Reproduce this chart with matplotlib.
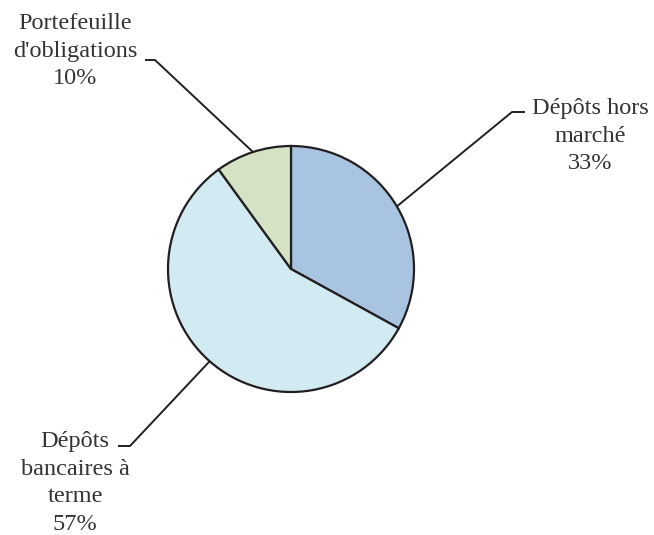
import numpy as np
import matplotlib
matplotlib.use('Agg')
import matplotlib.pyplot as plt

# data
labels = ["Dépôts hors\nmarché", "Dépôts\nbancaires à\nterme", "Portefeuille\nd'obligations"]
shares = [33, 57, 10]
colors = ['#a9c4e0', '#d2eaf1', '#d3e3c4']

W, H = 654, 535
fig = plt.figure(figsize=(W / 100, H / 100), dpi=100)
ax = fig.add_axes([0, 0, 1, 1])

cx, cy, r = 291, 266, 123
wedges, _ = ax.pie(shares, colors=colors, startangle=90, counterclock=False,
                   center=(cx, cy), radius=r, frame=True,
                   wedgeprops=dict(edgecolor='#231f20', linewidth=1.6))
ax.set_xlim(0, W)
ax.set_ylim(0, H)
ax.set_aspect('equal')
ax.axis('off')

# leader lines: (elbow point, end of horizontal tick) and text block centre
elbows = [((512, 423), (525, 423)), ((130, 89), (118, 89)), ((155, 475), (145, 475))]
text_pos = [(590, 399), (75, 52), (75, 484)]

for w, s, lab, (el, tick), (tx, ty) in zip(wedges, shares, labels, elbows, text_pos):
    ang = np.deg2rad((w.theta1 + w.theta2) / 2)
    x0, y0 = cx + r * np.cos(ang), cy + r * np.sin(ang)
    ax.plot([x0, el[0], tick[0]], [y0, el[1], tick[1]], color='#231f20', lw=1.4,
            solid_capstyle='butt')
    ax.text(tx, ty, '%s\n%d%%' % (lab, s), ha='center', va='center', fontsize=17.5,
            family='Liberation Serif', color='#333333', linespacing=1.4)

fig.savefig('out.png', dpi=100)
